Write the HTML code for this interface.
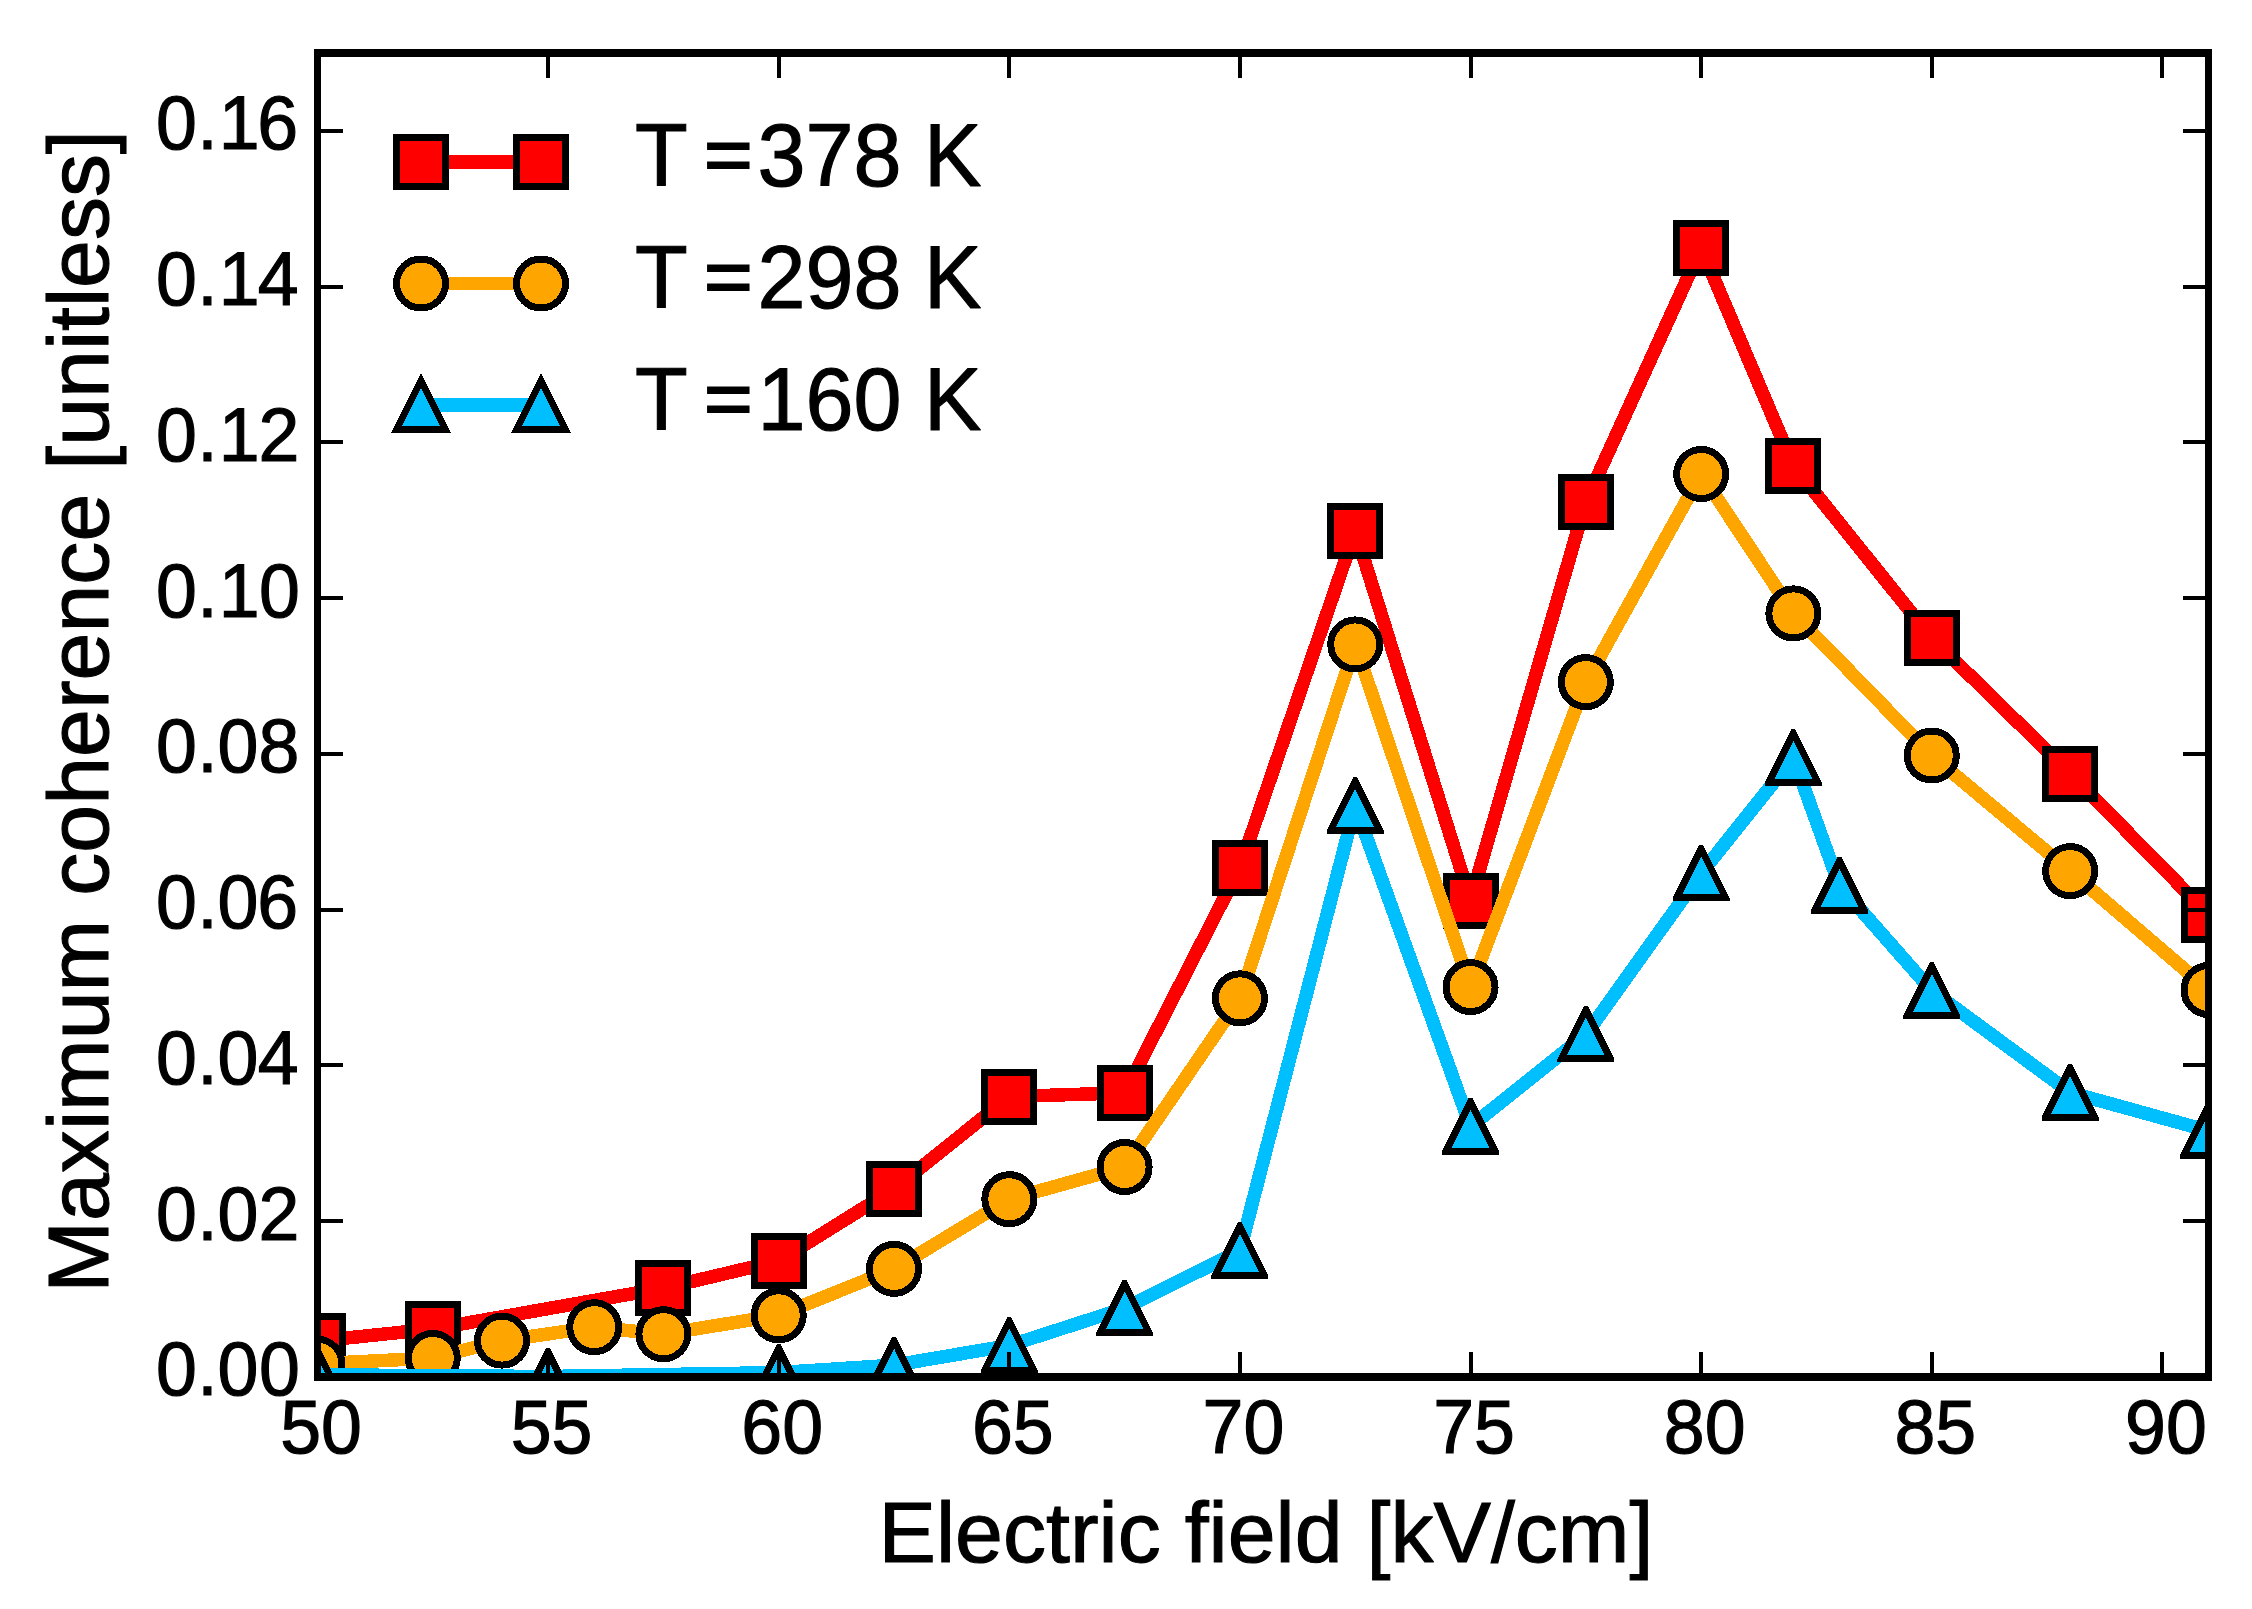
<!DOCTYPE html>
<html lang="en">
<head>
<meta charset="utf-8">
<title>Maximum coherence vs electric field</title>
<style>html,body{margin:0;padding:0;background:#fff;}body{width:2252px;height:1609px;overflow:hidden;}svg{display:block;}</style>
</head>
<body>
<svg width="2252" height="1609" viewBox="0 0 2252 1609">
<rect x="0" y="0" width="2252" height="1609" fill="#fff"/>
<defs><clipPath id="axclip"><rect x="317.5" y="53" width="1891" height="1324"/></clipPath></defs>
<g clip-path="url(#axclip)" shape-rendering="crispEdges">
<polyline points="317.5,1341 432.8,1329 663.41,1288.2 778.72,1260.9 894.02,1189.1 1009.33,1096.6 1124.63,1092.8 1239.94,867.5 1355.24,530.9 1470.55,900.5 1585.85,501.7 1701.16,248 1793.4,465.7 1931.77,638.1 2070.13,773.5 2208.5,914.6" fill="none" stroke="#ff0000" stroke-width="13.5" stroke-linejoin="miter" stroke-miterlimit="4" stroke-linecap="butt"/>
<rect x="293" y="1316.5" width="49" height="49" fill="#ff0000" stroke="#000" stroke-width="7"/>
<rect x="408.3" y="1304.5" width="49" height="49" fill="#ff0000" stroke="#000" stroke-width="7"/>
<rect x="638.91" y="1263.7" width="49" height="49" fill="#ff0000" stroke="#000" stroke-width="7"/>
<rect x="754.22" y="1236.4" width="49" height="49" fill="#ff0000" stroke="#000" stroke-width="7"/>
<rect x="869.52" y="1164.6" width="49" height="49" fill="#ff0000" stroke="#000" stroke-width="7"/>
<rect x="984.83" y="1072.1" width="49" height="49" fill="#ff0000" stroke="#000" stroke-width="7"/>
<rect x="1100.13" y="1068.3" width="49" height="49" fill="#ff0000" stroke="#000" stroke-width="7"/>
<rect x="1215.44" y="843" width="49" height="49" fill="#ff0000" stroke="#000" stroke-width="7"/>
<rect x="1330.74" y="506.4" width="49" height="49" fill="#ff0000" stroke="#000" stroke-width="7"/>
<rect x="1446.05" y="876" width="49" height="49" fill="#ff0000" stroke="#000" stroke-width="7"/>
<rect x="1561.35" y="477.2" width="49" height="49" fill="#ff0000" stroke="#000" stroke-width="7"/>
<rect x="1676.66" y="223.5" width="49" height="49" fill="#ff0000" stroke="#000" stroke-width="7"/>
<rect x="1768.9" y="441.2" width="49" height="49" fill="#ff0000" stroke="#000" stroke-width="7"/>
<rect x="1907.27" y="613.6" width="49" height="49" fill="#ff0000" stroke="#000" stroke-width="7"/>
<rect x="2045.63" y="749" width="49" height="49" fill="#ff0000" stroke="#000" stroke-width="7"/>
<rect x="2184" y="890.1" width="49" height="49" fill="#ff0000" stroke="#000" stroke-width="7"/>
<polyline points="317.5,1363.8 432.8,1358 501.99,1340.6 594.23,1327.2 663.41,1334.2 778.72,1315.3 894.02,1268.9 1009.33,1199.2 1124.63,1167 1239.94,998.3 1355.24,644.4 1470.55,987.1 1585.85,682.1 1701.16,474 1793.4,613.4 1931.77,755.5 2070.13,871.1 2208.5,990" fill="none" stroke="#ffa500" stroke-width="13.5" stroke-linejoin="miter" stroke-miterlimit="4" stroke-linecap="butt"/>
<circle cx="317.5" cy="1363.8" r="24.5" fill="#ffa500" stroke="#000" stroke-width="7"/>
<circle cx="432.8" cy="1358" r="24.5" fill="#ffa500" stroke="#000" stroke-width="7"/>
<circle cx="501.99" cy="1340.6" r="24.5" fill="#ffa500" stroke="#000" stroke-width="7"/>
<circle cx="594.23" cy="1327.2" r="24.5" fill="#ffa500" stroke="#000" stroke-width="7"/>
<circle cx="663.41" cy="1334.2" r="24.5" fill="#ffa500" stroke="#000" stroke-width="7"/>
<circle cx="778.72" cy="1315.3" r="24.5" fill="#ffa500" stroke="#000" stroke-width="7"/>
<circle cx="894.02" cy="1268.9" r="24.5" fill="#ffa500" stroke="#000" stroke-width="7"/>
<circle cx="1009.33" cy="1199.2" r="24.5" fill="#ffa500" stroke="#000" stroke-width="7"/>
<circle cx="1124.63" cy="1167" r="24.5" fill="#ffa500" stroke="#000" stroke-width="7"/>
<circle cx="1239.94" cy="998.3" r="24.5" fill="#ffa500" stroke="#000" stroke-width="7"/>
<circle cx="1355.24" cy="644.4" r="24.5" fill="#ffa500" stroke="#000" stroke-width="7"/>
<circle cx="1470.55" cy="987.1" r="24.5" fill="#ffa500" stroke="#000" stroke-width="7"/>
<circle cx="1585.85" cy="682.1" r="24.5" fill="#ffa500" stroke="#000" stroke-width="7"/>
<circle cx="1701.16" cy="474" r="24.5" fill="#ffa500" stroke="#000" stroke-width="7"/>
<circle cx="1793.4" cy="613.4" r="24.5" fill="#ffa500" stroke="#000" stroke-width="7"/>
<circle cx="1931.77" cy="755.5" r="24.5" fill="#ffa500" stroke="#000" stroke-width="7"/>
<circle cx="2070.13" cy="871.1" r="24.5" fill="#ffa500" stroke="#000" stroke-width="7"/>
<circle cx="2208.5" cy="990" r="24.5" fill="#ffa500" stroke="#000" stroke-width="7"/>
<polyline points="317.5,1374.8 548.11,1376.5 778.72,1372.6 894.02,1365.2 1009.33,1345.5 1124.63,1308.3 1239.94,1250.8 1355.24,805.7 1470.55,1126.5 1585.85,1034.4 1701.16,873.3 1793.4,757.8 1839.52,885.7 1931.77,990.7 2070.13,1092.5 2208.5,1130.8" fill="none" stroke="#00bfff" stroke-width="13.5" stroke-linejoin="miter" stroke-miterlimit="4" stroke-linecap="butt"/>
<polygon points="315.59,1346.3 319.41,1346.3 346,1399.47 346,1402.8 289,1402.8 289,1399.47" fill="#000"/><polygon points="317.5,1358.13 336.34,1395.8 298.66,1395.8" fill="#00bfff"/>
<polygon points="546.2,1348 550.02,1348 576.61,1401.17 576.61,1404.5 519.61,1404.5 519.61,1401.17" fill="#000"/><polygon points="548.11,1359.83 566.95,1397.5 529.27,1397.5" fill="#00bfff"/>
<polygon points="776.81,1344.1 780.63,1344.1 807.22,1397.27 807.22,1400.6 750.22,1400.6 750.22,1397.27" fill="#000"/><polygon points="778.72,1355.93 797.56,1393.6 759.88,1393.6" fill="#00bfff"/>
<polygon points="892.11,1336.7 895.94,1336.7 922.52,1389.87 922.52,1393.2 865.52,1393.2 865.52,1389.87" fill="#000"/><polygon points="894.02,1348.53 912.86,1386.2 875.19,1386.2" fill="#00bfff"/>
<polygon points="1007.42,1317 1011.24,1317 1037.83,1370.17 1037.83,1373.5 980.83,1373.5 980.83,1370.17" fill="#000"/><polygon points="1009.33,1328.83 1028.17,1366.5 990.49,1366.5" fill="#00bfff"/>
<polygon points="1122.72,1279.8 1126.55,1279.8 1153.13,1332.97 1153.13,1336.3 1096.13,1336.3 1096.13,1332.97" fill="#000"/><polygon points="1124.63,1291.63 1143.47,1329.3 1105.8,1329.3" fill="#00bfff"/>
<polygon points="1238.03,1222.3 1241.85,1222.3 1268.44,1275.47 1268.44,1278.8 1211.44,1278.8 1211.44,1275.47" fill="#000"/><polygon points="1239.94,1234.13 1258.78,1271.8 1221.1,1271.8" fill="#00bfff"/>
<polygon points="1353.33,777.2 1357.16,777.2 1383.74,830.37 1383.74,833.7 1326.74,833.7 1326.74,830.37" fill="#000"/><polygon points="1355.24,789.03 1374.08,826.7 1336.41,826.7" fill="#00bfff"/>
<polygon points="1468.64,1098 1472.46,1098 1499.05,1151.17 1499.05,1154.5 1442.05,1154.5 1442.05,1151.17" fill="#000"/><polygon points="1470.55,1109.83 1489.39,1147.5 1451.71,1147.5" fill="#00bfff"/>
<polygon points="1583.94,1005.9 1587.77,1005.9 1614.35,1059.07 1614.35,1062.4 1557.35,1062.4 1557.35,1059.07" fill="#000"/><polygon points="1585.85,1017.73 1604.69,1055.4 1567.02,1055.4" fill="#00bfff"/>
<polygon points="1699.25,844.8 1703.07,844.8 1729.66,897.97 1729.66,901.3 1672.66,901.3 1672.66,897.97" fill="#000"/><polygon points="1701.16,856.63 1720,894.3 1682.32,894.3" fill="#00bfff"/>
<polygon points="1791.49,729.3 1795.32,729.3 1821.9,782.47 1821.9,785.8 1764.9,785.8 1764.9,782.47" fill="#000"/><polygon points="1793.4,741.13 1812.24,778.8 1774.57,778.8" fill="#00bfff"/>
<polygon points="1837.61,857.2 1841.44,857.2 1868.02,910.37 1868.02,913.7 1811.02,913.7 1811.02,910.37" fill="#000"/><polygon points="1839.52,869.03 1858.36,906.7 1820.69,906.7" fill="#00bfff"/>
<polygon points="1929.86,962.2 1933.68,962.2 1960.27,1015.37 1960.27,1018.7 1903.27,1018.7 1903.27,1015.37" fill="#000"/><polygon points="1931.77,974.03 1950.61,1011.7 1912.93,1011.7" fill="#00bfff"/>
<polygon points="2068.22,1064 2072.05,1064 2098.63,1117.17 2098.63,1120.5 2041.63,1120.5 2041.63,1117.17" fill="#000"/><polygon points="2070.13,1075.83 2088.97,1113.5 2051.3,1113.5" fill="#00bfff"/>
<polygon points="2206.59,1102.3 2210.41,1102.3 2237,1155.47 2237,1158.8 2180,1158.8 2180,1155.47" fill="#000"/><polygon points="2208.5,1114.13 2227.34,1151.8 2189.66,1151.8" fill="#00bfff"/>
</g>
<g stroke="#000" stroke-width="4" shape-rendering="crispEdges">
<line x1="317.5" y1="1377" x2="317.5" y2="1351.8"/>
<line x1="317.5" y1="53" x2="317.5" y2="78.2"/>
<line x1="548.11" y1="1377" x2="548.11" y2="1351.8"/>
<line x1="548.11" y1="53" x2="548.11" y2="78.2"/>
<line x1="778.72" y1="1377" x2="778.72" y2="1351.8"/>
<line x1="778.72" y1="53" x2="778.72" y2="78.2"/>
<line x1="1009.33" y1="1377" x2="1009.33" y2="1351.8"/>
<line x1="1009.33" y1="53" x2="1009.33" y2="78.2"/>
<line x1="1239.94" y1="1377" x2="1239.94" y2="1351.8"/>
<line x1="1239.94" y1="53" x2="1239.94" y2="78.2"/>
<line x1="1470.55" y1="1377" x2="1470.55" y2="1351.8"/>
<line x1="1470.55" y1="53" x2="1470.55" y2="78.2"/>
<line x1="1701.16" y1="1377" x2="1701.16" y2="1351.8"/>
<line x1="1701.16" y1="53" x2="1701.16" y2="78.2"/>
<line x1="1931.77" y1="1377" x2="1931.77" y2="1351.8"/>
<line x1="1931.77" y1="53" x2="1931.77" y2="78.2"/>
<line x1="2162.38" y1="1377" x2="2162.38" y2="1351.8"/>
<line x1="2162.38" y1="53" x2="2162.38" y2="78.2"/>
<line x1="317.5" y1="1377" x2="342.7" y2="1377"/>
<line x1="2208.5" y1="1377" x2="2183.3" y2="1377"/>
<line x1="317.5" y1="1221.24" x2="342.7" y2="1221.24"/>
<line x1="2208.5" y1="1221.24" x2="2183.3" y2="1221.24"/>
<line x1="317.5" y1="1065.47" x2="342.7" y2="1065.47"/>
<line x1="2208.5" y1="1065.47" x2="2183.3" y2="1065.47"/>
<line x1="317.5" y1="909.71" x2="342.7" y2="909.71"/>
<line x1="2208.5" y1="909.71" x2="2183.3" y2="909.71"/>
<line x1="317.5" y1="753.94" x2="342.7" y2="753.94"/>
<line x1="2208.5" y1="753.94" x2="2183.3" y2="753.94"/>
<line x1="317.5" y1="598.18" x2="342.7" y2="598.18"/>
<line x1="2208.5" y1="598.18" x2="2183.3" y2="598.18"/>
<line x1="317.5" y1="442.41" x2="342.7" y2="442.41"/>
<line x1="2208.5" y1="442.41" x2="2183.3" y2="442.41"/>
<line x1="317.5" y1="286.65" x2="342.7" y2="286.65"/>
<line x1="2208.5" y1="286.65" x2="2183.3" y2="286.65"/>
<line x1="317.5" y1="130.88" x2="342.7" y2="130.88"/>
<line x1="2208.5" y1="130.88" x2="2183.3" y2="130.88"/>
</g>
<rect x="317.5" y="53" width="1891" height="1324" fill="none" stroke="#000" stroke-width="7.5" shape-rendering="crispEdges"/>
<g font-family="'Liberation Sans', Arial, Helvetica, sans-serif" font-size="73.5" fill="#000" stroke="#000" stroke-width="1.1" stroke-linejoin="miter" stroke-miterlimit="2">
<text transform="translate(321,1453.3) scale(1,1.04)" text-anchor="middle">50</text>
<text transform="translate(551.61,1453.3) scale(1,1.04)" text-anchor="middle">55</text>
<text transform="translate(782.22,1453.3) scale(1,1.04)" text-anchor="middle">60</text>
<text transform="translate(1012.83,1453.3) scale(1,1.04)" text-anchor="middle">65</text>
<text transform="translate(1243.44,1453.3) scale(1,1.04)" text-anchor="middle">70</text>
<text transform="translate(1474.05,1453.3) scale(1,1.04)" text-anchor="middle">75</text>
<text transform="translate(1704.66,1453.3) scale(1,1.04)" text-anchor="middle">80</text>
<text transform="translate(1935.27,1453.3) scale(1,1.04)" text-anchor="middle">85</text>
<text transform="translate(2165.88,1453.3) scale(1,1.04)" text-anchor="middle">90</text>
<text transform="translate(0,1395.45) scale(1,1.04)" x="156.05 197.25 217.55 259.05" y="0">0.00</text>
<text transform="translate(0,1239.69) scale(1,1.04)" x="156.05 197.25 217.55 258.55" y="0">0.02</text>
<text transform="translate(0,1083.92) scale(1,1.04)" x="156.05 197.25 217.55 257.85" y="0">0.04</text>
<text transform="translate(0,928.16) scale(1,1.04)" x="156.05 197.25 217.55 257.3" y="0">0.06</text>
<text transform="translate(0,772.39) scale(1,1.04)" x="156.05 197.25 217.55 258.55" y="0">0.08</text>
<text transform="translate(0,616.63) scale(1,1.04)" x="156.05 197.25 218.7 259.05" y="0">0.10</text>
<text transform="translate(0,460.86) scale(1,1.04)" x="156.05 197.25 218.7 258.55" y="0">0.12</text>
<text transform="translate(0,305.1) scale(1,1.04)" x="156.05 197.25 218.7 257.85" y="0">0.14</text>
<text transform="translate(0,149.33) scale(1,1.04)" x="156.05 197.25 218.7 257.3" y="0">0.16</text>
</g>
<g font-family="'Liberation Sans', Arial, Helvetica, sans-serif" font-size="86.1" fill="#000" stroke="#000" stroke-width="1.1" stroke-linejoin="miter" stroke-miterlimit="2">
<text x="1266" y="1561.5" text-anchor="middle">Electric field [kV/cm]</text>
<text transform="translate(108,711.4) rotate(-90)" text-anchor="middle">Maximum coherence [unitless]</text>
</g>
<g shape-rendering="crispEdges">
<line x1="421" y1="162" x2="541" y2="162" stroke="#ff0000" stroke-width="13.5"/>
<rect x="396.5" y="137.5" width="49" height="49" fill="#ff0000" stroke="#000" stroke-width="7"/>
<rect x="516.5" y="137.5" width="49" height="49" fill="#ff0000" stroke="#000" stroke-width="7"/>
<line x1="421" y1="283.5" x2="541" y2="283.5" stroke="#ffa500" stroke-width="13.5"/>
<circle cx="421" cy="283.5" r="24.5" fill="#ffa500" stroke="#000" stroke-width="7"/>
<circle cx="541" cy="283.5" r="24.5" fill="#ffa500" stroke="#000" stroke-width="7"/>
<line x1="421" y1="405" x2="541" y2="405" stroke="#00bfff" stroke-width="13.5"/>
<polygon points="421,380.5 396.5,429.5 445.5,429.5" fill="#00bfff" stroke="#000" stroke-width="7" stroke-miterlimit="10"/>
<polygon points="541,380.5 516.5,429.5 565.5,429.5" fill="#00bfff" stroke="#000" stroke-width="7" stroke-miterlimit="10"/>
</g>
<g font-family="'Liberation Sans', Arial, Helvetica, sans-serif" font-size="86.3" fill="#000" stroke="#000" stroke-width="1.1" stroke-linejoin="miter" stroke-miterlimit="2">
<text transform="translate(0,185.8) scale(1,1.03)" y="0"><tspan x="635.1">T</tspan><tspan x="757.5">378</tspan><tspan x="901.5"> </tspan><tspan x="924.1">K</tspan></text>
<text transform="translate(704,181.1) scale(0.965,0.89)" x="0" y="0" stroke-width="2.1">=</text>
<text transform="translate(0,307.8) scale(1,1.03)" y="0"><tspan x="635.1">T</tspan><tspan x="757.5">298</tspan><tspan x="901.5"> </tspan><tspan x="924.1">K</tspan></text>
<text transform="translate(704,303.1) scale(0.965,0.89)" x="0" y="0" stroke-width="2.1">=</text>
<text transform="translate(0,429.8) scale(1,1.03)" y="0"><tspan x="635.1">T</tspan><tspan x="757.5">160</tspan><tspan x="901.5"> </tspan><tspan x="924.1">K</tspan></text>
<text transform="translate(704,425.1) scale(0.965,0.89)" x="0" y="0" stroke-width="2.1">=</text>
</g>
</svg>
</body>
</html>
